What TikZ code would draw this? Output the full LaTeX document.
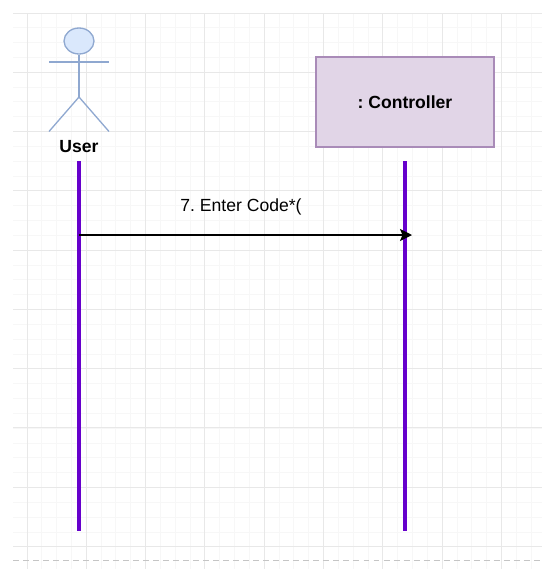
\documentclass[tikz,border=0pt]{standalone}
\usepackage{fontspec}
\setmainfont{Liberation Sans}
\usepackage{tikz}
\usetikzlibrary{arrows.meta}
\usetikzlibrary{positioning}
\usetikzlibrary{shapes}
\definecolor{lifelinePurple}{HTML}{6600CC}
\definecolor{actorBlue}{HTML}{DAE8FC}
\definecolor{actorEdge}{HTML}{8FA8D0}
\definecolor{boxPurple}{HTML}{E1D5E7}
\definecolor{boxEdge}{HTML}{A98BB8}
\definecolor{gridMajor}{HTML}{E8E8E8}
\definecolor{gridMinor}{HTML}{F7F7F7}
\frenchspacing
\tikzset{
  lifeline/.style={draw=lifelinePurple,line width=2.6pt},
  actorline/.style={draw=actorEdge,line width=0.75pt},
  message/.style={draw=black,line width=0.75pt,-{Stealth[length=0.24cm,width=0.24cm,inset=0.05cm]}},
  label/.style={font=\fontsize{10}{12}\selectfont}
}

\begin{document}
\begin{tikzpicture}[x=0.02cm,y=-0.02cm]
  \useasboundingbox (0,0) rectangle (546,569);

  %% page grid
  % minor lines
  \foreach \i in {0,...,35} {
    \pgfmathsetmacro{\gx}{floor(27+14.83*\i)+0.5}
    \draw[gridMinor,line width=0.55pt] (\gx,13) -- (\gx,569);
  }
  \foreach \i in {0,...,36} {
    \pgfmathsetmacro{\gy}{floor(13+14.83*\i)+0.5}
    \draw[gridMinor,line width=0.55pt] (13,\gy) -- (542,\gy);
  }
  % major lines
  \foreach \gx in {27,86,145,204,264,323,382,442,501} {
    \draw[gridMajor,line width=0.55pt] (\gx+0.5,13) -- (\gx+0.5,569);
  }
  \foreach \gy in {13,72,131,190,250,309,368,427,487,546} {
    \draw[gridMajor,line width=0.55pt] (13,\gy+0.5) -- (542,\gy+0.5);
  }
  % page break
  \draw[gridMajor!85!black,line width=0.55pt,dash pattern=on 3.4pt off 2.3pt] (13,560.5) -- (542,560.5);

  %% actor
  \node[ellipse,draw=actorEdge,fill=actorBlue,line width=0.75pt,inner sep=0pt,
    minimum width=0.6cm,minimum height=0.52cm] (head) at (79,41) {};
  \coordinate (armLeft) at (49,62);
  \coordinate (armRight) at (109,62);
  \coordinate (hip) at (79,97);
  \coordinate (footLeft) at (49,131.5);
  \coordinate (footRight) at (109,131.5);
  \draw[actorline] (head) -- (hip);
  \draw[actorline] (armLeft) -- (armRight);
  \draw[actorline] (footLeft) -- (hip) -- (footRight);
  \node[font=\fontsize{10}{12}\selectfont\bfseries] (user) at (79,147) {User};

  %% controller
  \node[rectangle,draw=boxEdge,fill=boxPurple,line width=0.6pt,
    minimum width=3.56cm,minimum height=1.8cm,
    font=\fontsize{10}{12}\selectfont\bfseries] (controller) at (405,102) {: Controller};

  %% lifelines
  \coordinate (userTop) at (79,161);
  \coordinate (userBottom) at (79,531);
  \coordinate (controllerTop) at (405,161);
  \coordinate (controllerBottom) at (405,531);
  \draw[lifeline] (userTop) -- (userBottom);
  \draw[lifeline] (controllerTop) -- (controllerBottom);

  %% message
  \coordinate (msgStart) at (79,235);
  \coordinate (msgEnd) at (412,235);
  \draw[message] (msgStart) -- (msgEnd);
  \node[label] (enterCode) at (241,207) {7. Enter Code*(};
\end{tikzpicture}
\end{document}
